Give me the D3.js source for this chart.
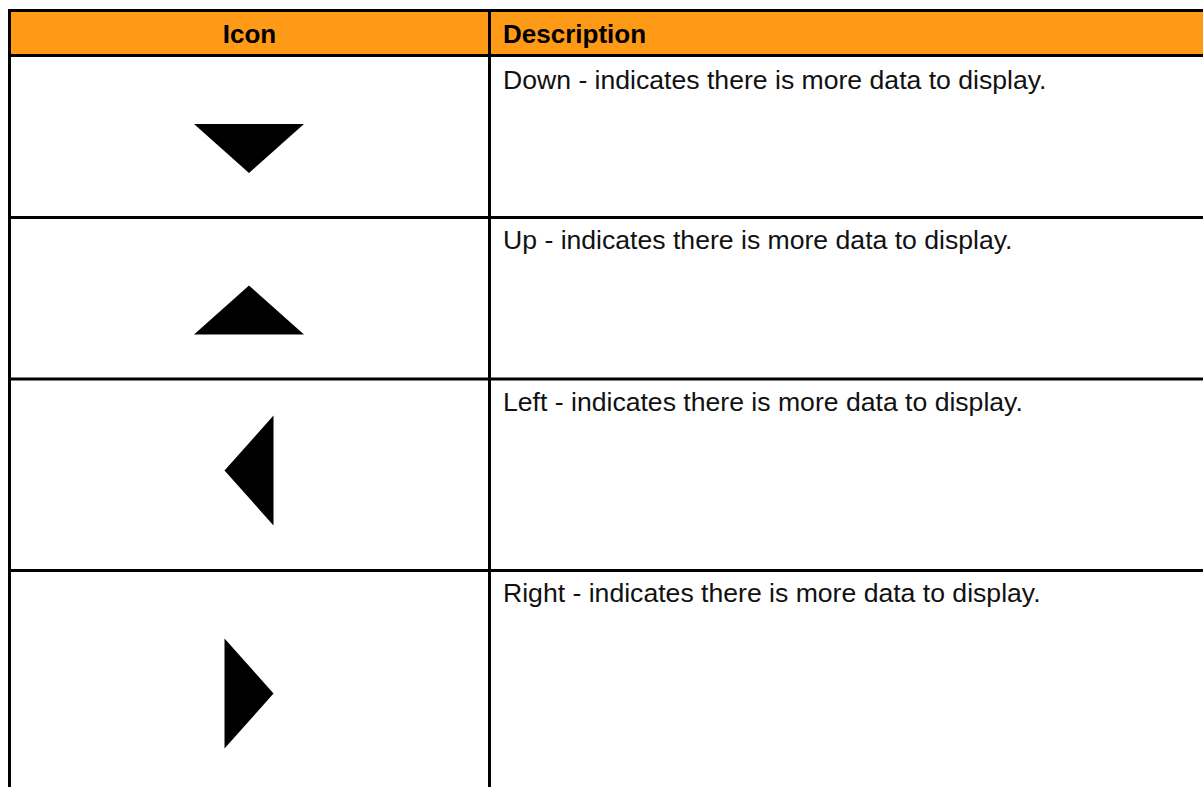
<!DOCTYPE html>
<html>
<head>
<meta charset="utf-8">
<script src="https://cdn.jsdelivr.net/npm/d3@7"></script>
<style>
  html, body { margin: 0; padding: 0; background: #ffffff; }
  svg { display: block; }
</style>
</head>
<body>
<svg id="chart" width="1203" height="787"></svg>
<script>
// ---- data ----
const headers = ["Icon", "Description"];
const icons = ["down", "up", "left", "right"];
const descriptions = [
  "Down - indicates there is more data to display.",
  "Up - indicates there is more data to display.",
  "Left - indicates there is more data to display.",
  "Right - indicates there is more data to display."
];

// ---- layout (positions / sizes / styles) ----
const W = 1203, H = 787;
const borderW = 3;
const headerFill = "#FE9A16";
const fontFamily = "'Liberation Sans', Arial, Helvetica, sans-serif";
const headerFontSize = 26;
const fontSize = 26.6;
const xLeft = 9.5, xDivider = 489.5, xRight = 1260;
const yTop = 10.5, yHeaderBottom = 55.5;
const rowLines = [yHeaderBottom, 217.5, 379, 570.5, 830];   // horizontal rule centres
const iconCenterY = [148.5, 310, 470.5, 693.5];
const textX = 503;
const textBaselineOffset = 32;

const svg = d3.select("#chart");

// header band
svg.append("rect")
  .attr("x", xLeft).attr("y", yTop)
  .attr("width", xRight - xLeft).attr("height", yHeaderBottom - yTop)
  .attr("fill", headerFill);

// header text
const iconColCenter = (xLeft + xDivider) / 2;
svg.selectAll("text.header")
  .data(headers)
  .join("text")
  .attr("class", "header")
  .attr("x", (d, i) => i === 0 ? iconColCenter : textX)
  .attr("y", 43)
  .attr("text-anchor", (d, i) => i === 0 ? "middle" : "start")
  .attr("font-family", fontFamily)
  .attr("font-weight", "bold")
  .attr("font-size", headerFontSize)
  .attr("fill", "#000")
  .text(d => d);

// description text
svg.selectAll("text.desc")
  .data(descriptions)
  .join("text")
  .attr("class", "desc")
  .attr("x", textX)
  .attr("y", (d, i) => rowLines[i] + 1.5 + textBaselineOffset - (i === 0 ? 0 : 2))
  .attr("font-family", fontFamily)
  .attr("font-size", fontSize)
  .attr("fill", "#111")
  .text(d => d);

// triangle icons
const longSide = 110, shortSide = 49;
function triPath(dir, cx, cy) {
  const hl = longSide / 2, hs = shortSide / 2;
  let pts;
  if (dir === "down") pts = [[cx - hl, cy - hs], [cx + hl, cy - hs], [cx, cy + hs]];
  else if (dir === "up") pts = [[cx, cy - hs], [cx + hl, cy + hs], [cx - hl, cy + hs]];
  else if (dir === "left") pts = [[cx + hs, cy - hl], [cx + hs, cy + hl], [cx - hs, cy]];
  else pts = [[cx - hs, cy - hl], [cx + hs, cy], [cx - hs, cy + hl]];
  return d3.line()(pts) + "Z";
}
svg.selectAll("path.icon")
  .data(icons)
  .join("path")
  .attr("class", "icon")
  .attr("d", (d, i) => triPath(d, iconColCenter - 0.5, iconCenterY[i]))
  .attr("fill", "#000");

// grid lines
const g = svg.append("g").attr("stroke", "#000").attr("stroke-width", borderW);
g.append("line").attr("x1", xLeft - 1.5).attr("x2", xRight).attr("y1", yTop).attr("y2", yTop);
g.selectAll("line.h")
  .data(rowLines)
  .join("line")
  .attr("class", "h")
  .attr("x1", xLeft - 1.5).attr("x2", xRight)
  .attr("y1", d => d).attr("y2", d => d);
g.append("line").attr("x1", xLeft).attr("x2", xLeft).attr("y1", yTop - 1.5).attr("y2", H + 10);
g.append("line").attr("x1", xDivider).attr("x2", xDivider).attr("y1", yTop - 1.5).attr("y2", H + 10);
</script>
</body>
</html>
